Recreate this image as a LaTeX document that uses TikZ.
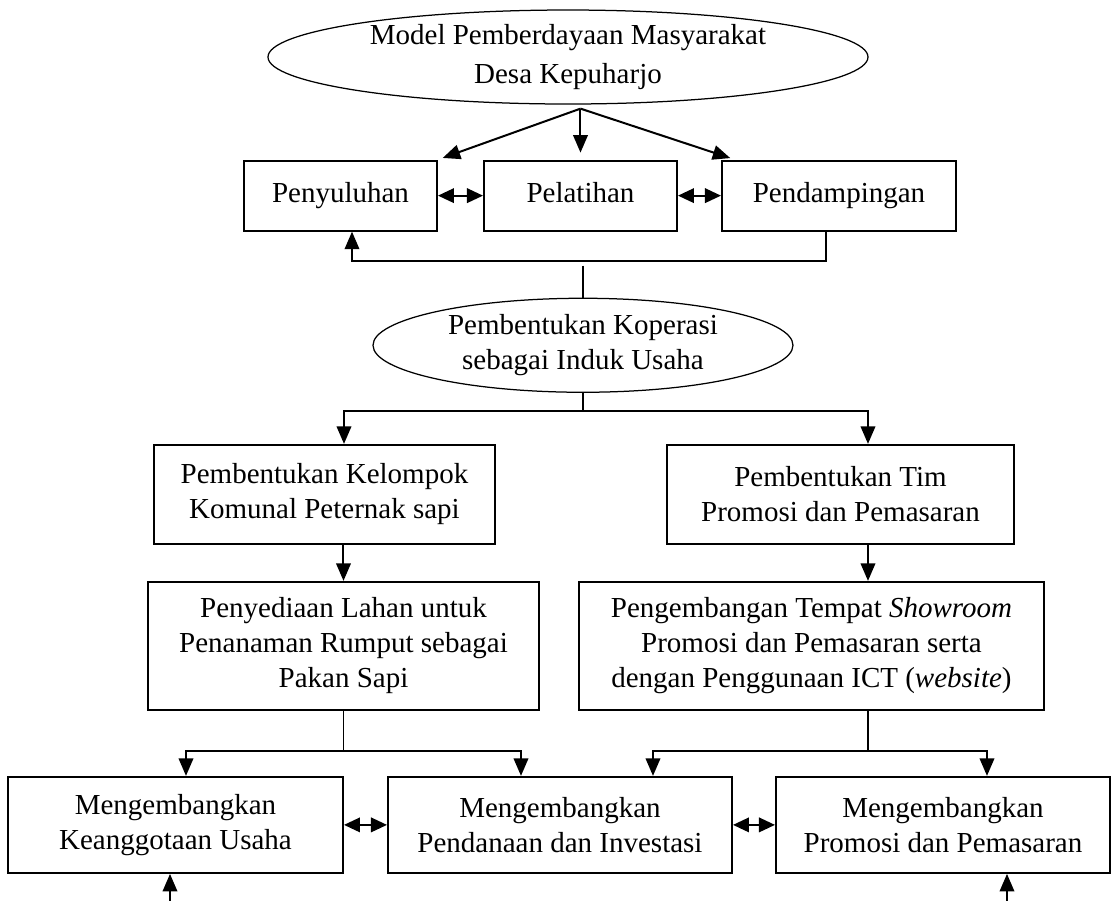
\documentclass[tikz,border=0pt]{standalone}
\usepackage{fontspec}
\setmainfont{Liberation Serif}
\usetikzlibrary{positioning, shapes.geometric, arrows.meta}

\begin{document}
\begin{tikzpicture}[node distance=0.5cm and 0.5cm, auto,
    stagebox/.style={rectangle, draw, line width=0.8pt, align=center, inner sep=2pt, font={\fontsize{11.6}{14}\selectfont}},
    oval/.style={ellipse, draw, line width=0.5pt, align=center, inner sep=0pt, font={\fontsize{11.6}{14}\selectfont}},
    flow/.style={-{Triangle[length=7pt, width=5.8pt]}, line width=0.8pt},
    twoway/.style={{Triangle[length=6.4pt, width=5.8pt]}-{Triangle[length=6.4pt, width=5.8pt]}, line width=0.8pt},
    link/.style={line width=0.5pt}]
            \useasboundingbox (-227.2pt,22.8pt) rectangle (217.6pt,-337.2pt);

            % Nodes
            \node[oval, minimum width=240pt, minimum height=37.6pt, font={\fontsize{11.6}{15.5}\selectfont}] (model) at (0,0) {Model Pemberdayaan Masyarakat
            \\ Desa Kepuharjo};

            \node[stagebox, minimum width=77.2pt, minimum height=28pt, text height=8pt, text depth=2.5pt, below=22pt of model, xshift=5pt] (pelatihan) {Pelatihan};
            \node[stagebox, minimum width=77.2pt, minimum height=28pt, text height=8pt, text depth=2.5pt, left=18pt of pelatihan] (penyuluhan) {Penyuluhan};
            \node[stagebox, minimum width=93.6pt, minimum height=28pt, text height=8pt, text depth=2.5pt, right=17.2pt of pelatihan] (pendampingan) {Pendampingan};

            \node[oval, minimum width=168pt, minimum height=37.6pt, below=26.4pt of pelatihan, xshift=1pt] (koperasi) {Pembentukan Koperasi
            \\ sebagai Induk Usaha};

            \node[stagebox, minimum width=136.4pt, minimum height=39.6pt, below=20.4pt of koperasi, xshift=-103.4pt] (kelompok) {Pembentukan Kelompok
            \\ Komunal Peternak sapi};
            \node[stagebox, minimum width=138.8pt, minimum height=39.6pt, below=20.4pt of koperasi, xshift=103pt] (tim) {Pembentukan Tim
            \\ Promosi dan Pemasaran};

            \node[stagebox, minimum width=156.4pt, minimum height=51.2pt, below=14.4pt of kelompok, xshift=7.6pt] (lahan) {Penyediaan Lahan untuk
            \\ Penanaman Rumput sebagai
            \\ Pakan Sapi};
            \node[stagebox, minimum width=186pt, minimum height=51.2pt, below=14.4pt of tim, xshift=-11.6pt] (showroom) {Pengembangan Tempat \textit{Showroom}
            \\ Promosi dan Pemasaran serta
            \\ dengan Penggunaan ICT (\textit{website})};

            \node[stagebox, minimum width=137.6pt, minimum height=38.4pt, below=26pt of lahan, xshift=86.6pt] (dana) {Mengembangkan
            \\ Pendanaan dan Investasi};
            \node[stagebox, minimum width=134pt, minimum height=38.4pt, left=17.2pt of dana] (anggota) {Mengembangkan
            \\ Keanggotaan Usaha};
            \node[stagebox, minimum width=133.6pt, minimum height=38.4pt, right=16.8pt of dana] (promosi) {Mengembangkan
            \\ Promosi dan Pemasaran};

            \coordinate[below=1.6pt of model.south, xshift=5pt] (modelsplit);
            \coordinate[above=12.8pt of koperasi.north] (koperasiin);
            \coordinate[below=7.2pt of koperasi.south] (koperasisplit);
            \coordinate[below=16pt of lahan.south] (lahansplit);
            \coordinate[below=16pt of showroom.south, xshift=22.6pt] (showroomsplit);
            \coordinate[below=13.6pt of anggota.south, xshift=-2.2pt] (anggotain);
            \coordinate[below=13.6pt of promosi.south, xshift=25.6pt] (promosiin);

            % Arrows
            \draw[flow, shorten >=2pt] (modelsplit) -- (penyuluhan.north east);
            \draw[flow, shorten >=2.8pt] (modelsplit) -- (pelatihan.north);
            \draw[flow, shorten >=2pt] (modelsplit) -- ([xshift=5.6pt]pendampingan.north west);
            \draw[twoway] (penyuluhan) -- (pelatihan);
            \draw[twoway] (pelatihan) -- (pendampingan);
            \draw[flow] ([xshift=-5.2pt]pendampingan.south) -- ++(0,-11.6pt) -| ([xshift=4.6pt]penyuluhan.south);

            \draw[link] (koperasiin) -- (koperasi);
            \draw[link] (koperasi) -- (koperasisplit);
            \draw[flow] (koperasisplit) -| ([xshift=7.8pt]kelompok.north);
            \draw[flow] (koperasisplit) -| ([xshift=11pt]tim.north);
            \draw[flow] (lahan.north |- kelompok.south) -- (lahan.north);
            \draw[flow] ([xshift=11pt]tim.south) -- ([xshift=11pt]tim.south |- showroom.north);

            \draw[link] (lahan) -- (lahansplit);
            \draw[flow] (lahansplit) -| ([xshift=4.2pt]anggota.north);
            \draw[flow] (lahansplit) -| ([xshift=-15.6pt]dana.north);
            \draw[link] (showroomsplit |- showroom.south) -- (showroomsplit);
            \draw[flow] (showroomsplit) -| ([xshift=37.2pt]dana.north);
            \draw[flow] (showroomsplit) -| ([xshift=17.6pt]promosi.north);
            \draw[twoway] (anggota) -- (dana);
            \draw[twoway] (dana) -- (promosi);
            \draw[flow] (anggotain) -- (anggotain |- anggota.south);
            \draw[flow] (promosiin) -- (promosiin |- promosi.south);
        \end{tikzpicture}
\end{document}
